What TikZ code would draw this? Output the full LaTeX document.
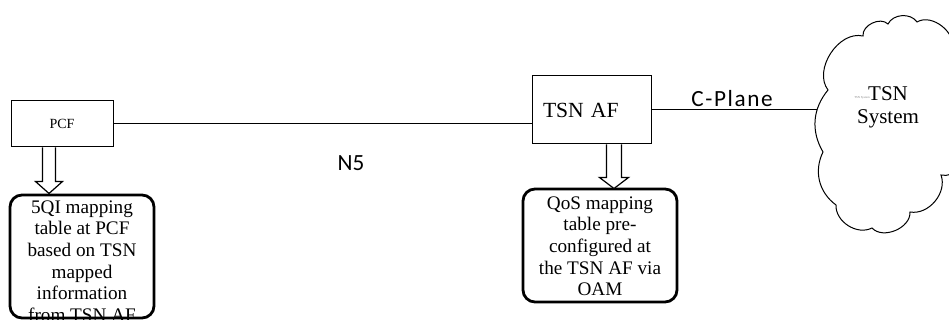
\documentclass[tikz,border=0pt]{standalone}
\usepackage{fontspec}
\setmainfont{Liberation Serif}
\newfontfamily\calibri{Carlito}
\newfontfamily\calibriwide[LetterSpace=7]{Carlito}
\usetikzlibrary{calc}

\begin{document}
\begin{tikzpicture}[x=0.5pt, y=0.5pt,
  funcbox/.style={draw, line width=0.5pt, inner sep=0pt},
  notebox/.style={draw, line width=1.4pt, rounded corners=6pt},
  notetext/.style={align=center, inner sep=0pt, anchor=north,
    font=\fontsize{9.6}{10.85}\selectfont},
  blockarrow/.style={draw, line width=0.6pt, fill=white, line join=miter},
  link/.style={draw, line width=0.5pt},
  linklabel/.style={inner sep=0pt, font=\fontsize{11.6}{12}\selectfont}]
  \useasboundingbox (0,0) rectangle (949,320);

  % ---------------- the two functions ----------------
  \node[funcbox, minimum width=51pt, minimum height=23pt,
        font=\fontsize{7}{8}\selectfont] (pcf) at (62,196) {PCF};
  \node[funcbox, minimum height=34pt, text width=48.5pt, inner xsep=5.5pt,
        align=left, font=\fontsize{10.8}{12}\selectfont] (af) at (591.5,210) {TSN AF};

  % ---------------- the cloud ----------------
  \coordinate (cloudin) at (817,210);
  \draw[line width=0.5pt]
    (952,270) to[bend right=70] (917,298) to[bend right=60] (888,296)
    to[bend right=70] (863,284) to[bend right=70] (828,230)
    to[bend right=35] (823,168) to[bend right=40] (836,115)
    to[bend right=60] (872,92) to[bend right=70] (910,108)
    to[bend right=60] (941,145) to[bend right=60] (965,170)
    to[bend right=40] (952,270);
  \node[anchor=north, align=center, inner sep=0pt,
        font=\fontsize{10.5}{11.5}\selectfont] (tsn) at (888,234) {TSN\\System};
  \node[inner sep=0pt, text=black!50, font=\fontsize{1.5}{2}\selectfont]
    (tsnsmall) at (862,222) {TSN System};

  % ---------------- the interfaces ----------------
  \draw[link] (pcf.east) -- (pcf.east -| af.west);
  \draw[link] (af.east) -- (cloudin);
  \node[linklabel, font=\calibri\fontsize{11.6}{12}\selectfont] (nfive) at (351,157) {N5};
  \node[linklabel, anchor=base, font=\calibriwide\fontsize{11.6}{12}\selectfont]
    (cplane) at (732,213) {C-Plane};

  % ---------------- the mapping tables ----------------
  \draw[notebox] (10,2) rectangle (154,125);
  \node[notetext] (qitext) at (82,120)
    {5QI mapping\\table at PCF\\based on TSN\\mapped\\information\\from TSN AF};
  \draw[notebox] (523,18) rectangle (677,131);
  \node[notetext] (qostext) at (600,124)
    {QoS mapping\\table pre-\\configured at\\the TSN AF via\\OAM};

  % ---------------- the block arrows ----------------
  \draw[blockarrow] ($(pcf.south west)+(32,0)$) -- ++(0,-34) -- ++(-7,0)
    -- ++(13.5,-12) -- ++(13.5,12) -- ++(-7,0) -- ++(0,34);
  \draw[blockarrow] ($(af.south west)+(75,0)$) -- ++(0,-33) -- ++(-7,0)
    -- ++(14.5,-11) -- ++(14.5,11) -- ++(-7,0) -- ++(0,33);
\end{tikzpicture}
\end{document}
